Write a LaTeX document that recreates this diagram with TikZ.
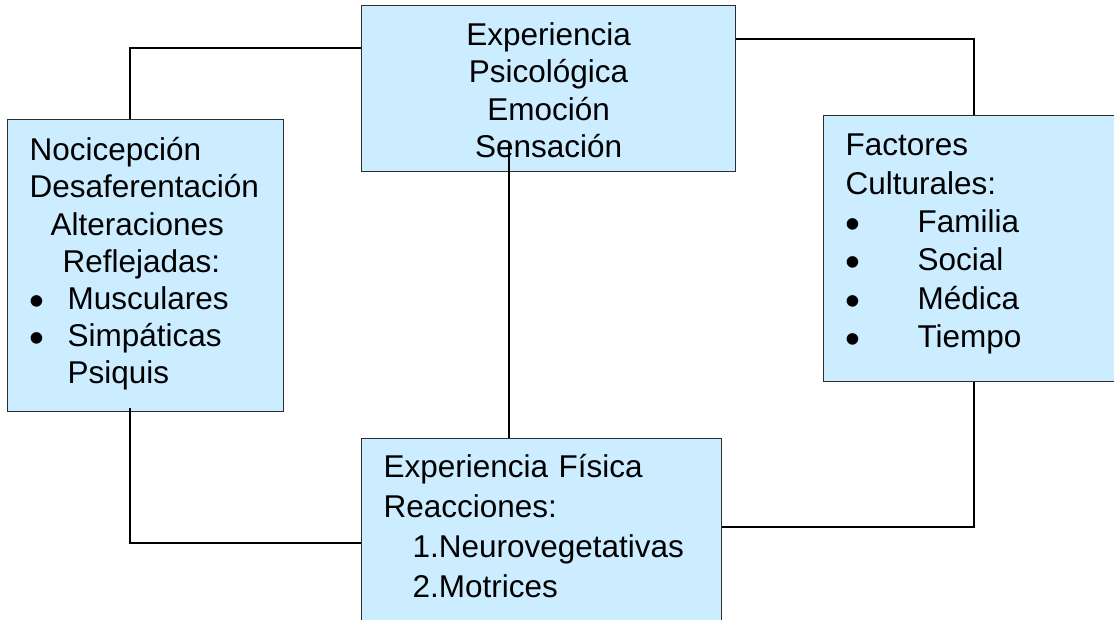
\documentclass[tikz,border=0pt]{standalone}
\usepackage{fontspec}
\setmainfont{Liberation Sans}
\usepackage{xcolor}
\usepackage{tikz}

\definecolor{boxblue}{RGB}{204,236,255}
\definecolor{boxline}{RGB}{45,45,45}
\newcommand{\itm}[2]{\makebox[#1][l]{\smash{\raisebox{-6pt}{\scalebox{1.35}{\textbullet}}}}#2}

\begin{document}
\begin{tikzpicture}[x=1pt,y=-1pt]
\tikzstyle{caja} = [draw=boxline,line width=1.2pt,fill=boxblue,anchor=north west,inner ysep=0pt,font=\fontsize{31.5}{37.2}\selectfont];
\tikzstyle{enlace} = [line width=1.8pt,black];
\useasboundingbox (0,0) rectangle (1114,619);
\clip (0,0) rectangle (1114,619);
\node [caja,inner xsep=0pt,text width=374pt,align=center,text height=40pt,text depth=126pt] (psico) at (361,5)
  {Experiencia\\Psicológica\\Emoción\\Sensación};
\node [caja,inner xsep=22pt,text width=232pt,align=left,text height=41pt,text depth=251pt] (noci) at (7,119)
  {Nocicepción\\Desaferentación\\\hspace*{21pt}Alteraciones\\\hspace*{33pt}Reflejadas:\\\itm{38pt}{Musculares}\\\itm{38pt}{Simpáticas}\\\hspace*{38pt}Psiquis};
\node [caja,inner xsep=22pt,text width=286pt,align=left,text height=40pt,text depth=226pt,font=\fontsize{31.5}{38.4}\selectfont] (fact) at (823,115)
  {Factores\\Culturales:\\\itm{72pt}{Familia}\\\itm{72pt}{Social}\\\itm{72pt}{Médica}\\\itm{72pt}{Tiempo}};
\node [caja,inner xsep=22pt,text width=316pt,align=left,text height=39pt,text depth=161pt,font=\fontsize{31.5}{40}\selectfont] (fisica) at (361,438)
  {Experiencia Física\\Reacciones:\\\hspace*{29pt}1.Neurovegetativas\\\hspace*{29pt}2.Motrices};
\draw [enlace] ([yshift=-43pt]psico.north west) -| ([xshift=123pt]noci.north west);
\draw [enlace] ([yshift=-34pt]psico.north east) -| ([xshift=151pt]fact.north west);
\draw [enlace] ([xshift=148pt,yshift=-137pt]psico.north west) -- ([xshift=148pt]fisica.north west);
\draw [enlace] ([xshift=123pt,yshift=4pt]noci.south west) |- ([yshift=-105pt]fisica.north west);
\draw [enlace] ([xshift=151pt]fact.south west) |- ([yshift=-89pt]fisica.north east);
\end{tikzpicture}
\end{document}
